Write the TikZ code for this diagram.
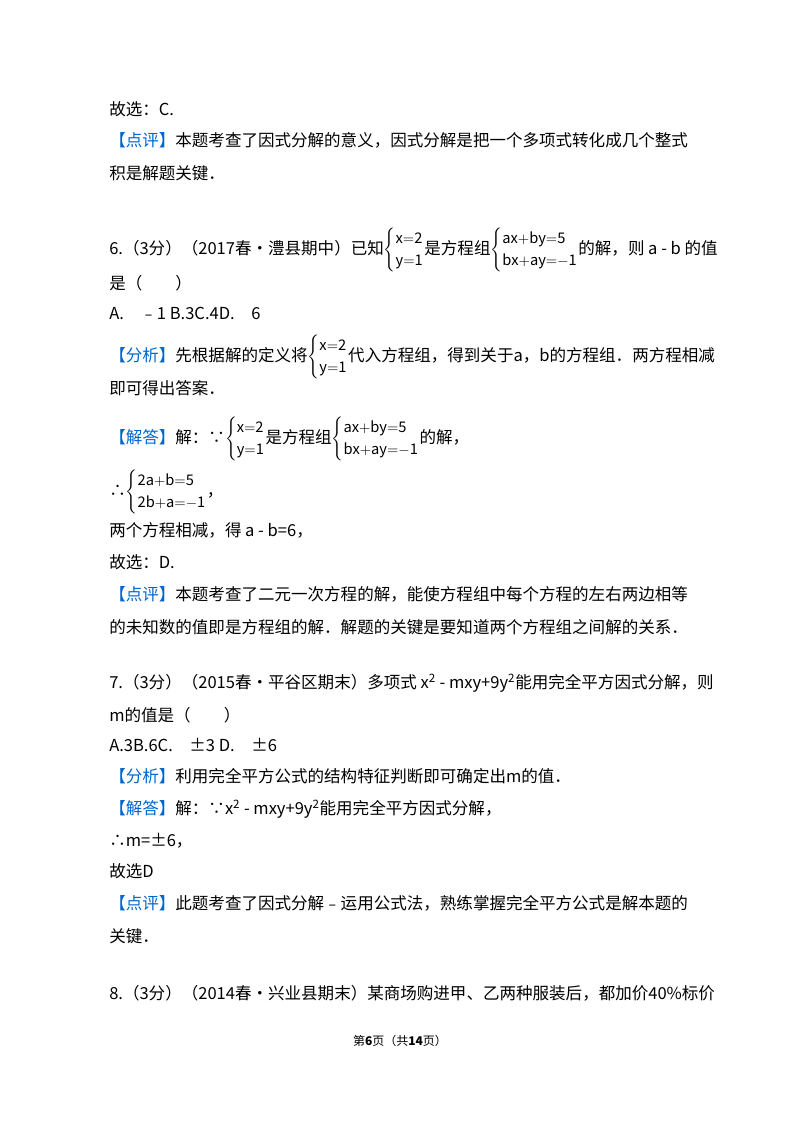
\documentclass[tikz,border=0pt]{standalone}
\usepackage{fontspec}
\setmainfont{Noto Sans CJK SC}
\usepackage{amssymb}
\definecolor{pingblue}{RGB}{0,102,204}
\newcommand{\tag}[1]{{\color{pingblue}【#1】}}
\newcommand{\eqsys}[2]{{\fontsize{11}{13}\selectfont\renewcommand{\arraystretch}{1.25}$\left\{\begin{array}{@{}l@{}}\mathrm{#1}\\ \mathrm{#2}\end{array}\right.$}}
\begin{document}
\begin{tikzpicture}[x=0.75pt,y=-0.75pt,
    txt/.style={anchor=base west,inner sep=0pt,font=\fontsize{12.4}{14}\selectfont}]
    \useasboundingbox[fill=white] (0,0) rectangle (800,1132);
    % question 5 end
    \node[txt] (q5a) at (109,115) {故选：C.};
    \node[txt] (q5b) at (109,146) {\tag{点评}本题考查了因式分解的意义，因式分解是把一个多项式转化成几个整式};
    \node[txt] (q5c) at (109,179) {积是解题关键．};
    % question 6
    \node[txt] (q6a) at (109,254) {6.（3分）（2017春•澧县期中）已知\eqsys{x{=}2}{y{=}1}是方程组\eqsys{ax{+}by{=}5}{bx{+}ay{=}{-}1}的解，则 a - b 的值};
    \node[txt] (q6b) at (109,289) {是（　　）};
    \node[txt] (q6c) at (109,319) {A.　﹣1 B.3C.4D.　6};
    \node[txt] (q6d) at (109,361) {\tag{分析}先根据解的定义将\eqsys{x{=}2}{y{=}1}代入方程组，得到关于a，b的方程组．两方程相减};
    \node[txt] (q6e) at (109,394) {即可得出答案．};
    \node[txt] (q6f) at (109,443) {\tag{解答}解：∵\eqsys{x{=}2}{y{=}1}是方程组\eqsys{ax{+}by{=}5}{bx{+}ay{=}{-}1}的解，};
    \node[txt] (q6g) at (109,496) {∴\eqsys{2a{+}b{=}5}{2b{+}a{=}{-}1}，};
    \node[txt] (q6h) at (109,536) {两个方程相减，得 a - b=6，};
    \node[txt] (q6i) at (109,568) {故选：D.};
    \node[txt] (q6j) at (109,600) {\tag{点评}本题考查了二元一次方程的解，能使方程组中每个方程的左右两边相等};
    \node[txt] (q6k) at (109,633) {的未知数的值即是方程组的解．解题的关键是要知道两个方程组之间解的关系．};
    % question 7
    \node[txt] (q7a) at (109,688) {7.（3分）（2015春•平谷区期末）多项式 x\textsuperscript{2} - mxy+9y\textsuperscript{2}能用完全平方因式分解，则};
    \node[txt] (q7b) at (109,721) {m的值是（　　）};
    \node[txt] (q7c) at (109,751) {A.3B.6C.　±3 D.　±6};
    \node[txt] (q7d) at (109,782) {\tag{分析}利用完全平方公式的结构特征判断即可确定出m的值．};
    \node[txt] (q7e) at (109,814) {\tag{解答}解：∵x\textsuperscript{2} - mxy+9y\textsuperscript{2}能用完全平方因式分解，};
    \node[txt] (q7f) at (109,846) {∴m=±6，};
    \node[txt] (q7g) at (109,877) {故选D};
    \node[txt] (q7h) at (109,909) {\tag{点评}此题考查了因式分解﹣运用公式法，熟练掌握完全平方公式是解本题的};
    \node[txt] (q7i) at (109,942) {关键．};
    % question 8
    \node[txt] (q8a) at (109,999) {8.（3分）（2014春•兴业县期末）某商场购进甲、乙两种服装后，都加价40\%标价};
    % footer
    \node[anchor=base,inner sep=0pt,font=\fontsize{9}{11}\selectfont] (foot) at (400,1045) {第\textbf{6}页（共\textbf{14}页）};
\end{tikzpicture}
\end{document}
